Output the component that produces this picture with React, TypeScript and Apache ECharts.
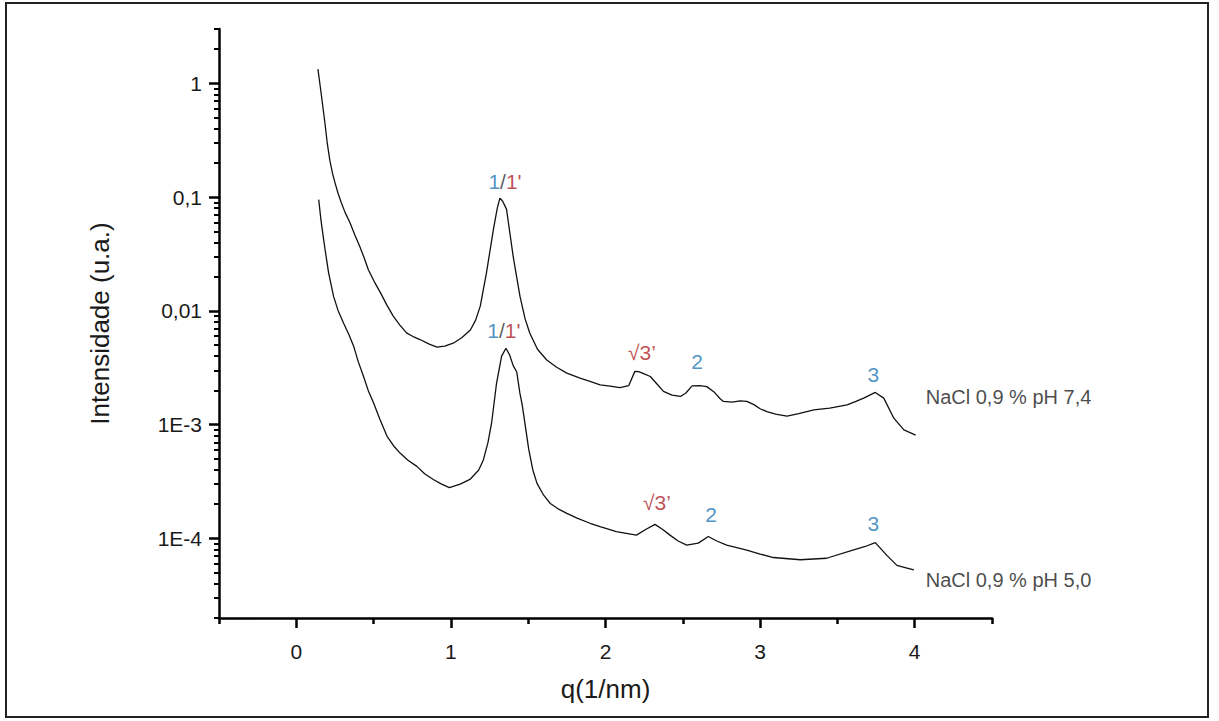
import React, { useEffect, useRef } from "react";
import * as echarts from "echarts";

// pH 7,4 curve (top)
const qTop = [0.14, 0.16, 0.185, 0.2, 0.217, 0.235, 0.25, 0.27, 0.29, 0.316, 0.346, 0.38, 0.41, 0.44, 0.466, 0.505, 0.545, 0.585, 0.627, 0.67, 0.713, 0.76, 0.8, 0.86, 0.91, 0.96, 1.015, 1.07, 1.126, 1.16, 1.19, 1.23, 1.275, 1.3, 1.317, 1.335, 1.36, 1.38, 1.403, 1.425, 1.447, 1.48, 1.51, 1.56, 1.62, 1.684, 1.75, 1.835, 1.9, 1.965, 2.03, 2.094, 2.15, 2.19, 2.215, 2.25, 2.29, 2.33, 2.375, 2.43, 2.485, 2.52, 2.56, 2.61, 2.655, 2.7, 2.74, 2.763, 2.82, 2.87, 2.914, 2.96, 3.0, 3.044, 3.1, 3.174, 3.25, 3.347, 3.45, 3.563, 3.62, 3.67, 3.745, 3.8, 3.865, 3.93, 4.006];
const iTop = [1.33, 0.83, 0.45, 0.3, 0.21, 0.16, 0.134, 0.108, 0.09, 0.073, 0.06, 0.046, 0.037, 0.029, 0.023, 0.018, 0.0144, 0.0113, 0.009, 0.0075, 0.0064, 0.0059, 0.0056, 0.0051, 0.0048, 0.0049, 0.0052, 0.0058, 0.0068, 0.0083, 0.011, 0.0216, 0.052, 0.08, 0.098, 0.092, 0.078, 0.05, 0.03, 0.02, 0.0134, 0.0085, 0.0064, 0.0046, 0.0037, 0.0032, 0.00284, 0.00257, 0.0024, 0.00224, 0.00218, 0.00212, 0.0022, 0.00294, 0.00292, 0.0028, 0.00265, 0.0023, 0.00196, 0.00182, 0.00177, 0.0019, 0.00219, 0.0022, 0.00216, 0.00195, 0.0017, 0.0016, 0.00158, 0.00162, 0.0016, 0.0015, 0.00138, 0.0013, 0.00124, 0.00119, 0.00125, 0.00135, 0.0014, 0.00149, 0.0016, 0.00171, 0.00192, 0.00171, 0.00114, 0.0009, 0.00081];

// pH 5,0 curve (bottom)
const qBottom = [0.145, 0.16, 0.177, 0.193, 0.209, 0.225, 0.241, 0.27, 0.306, 0.34, 0.371, 0.4, 0.435, 0.465, 0.5, 0.54, 0.587, 0.63, 0.673, 0.72, 0.78, 0.83, 0.886, 0.94, 0.99, 1.06, 1.123, 1.18, 1.21, 1.24, 1.263, 1.295, 1.328, 1.356, 1.38, 1.403, 1.426, 1.446, 1.461, 1.48, 1.504, 1.53, 1.557, 1.6, 1.643, 1.7, 1.75, 1.82, 1.9, 1.965, 2.07, 2.2, 2.26, 2.32, 2.37, 2.417, 2.47, 2.525, 2.6, 2.665, 2.72, 2.784, 2.914, 3.0, 3.086, 3.26, 3.43, 3.6, 3.68, 3.745, 3.82, 3.885, 3.95, 3.995];
const iBottom = [0.095, 0.062, 0.042, 0.03, 0.0216, 0.017, 0.0134, 0.0101, 0.0078, 0.0062, 0.0049, 0.0036, 0.00265, 0.002, 0.00155, 0.00112, 0.00079, 0.00065, 0.00056, 0.00049, 0.00043, 0.00037, 0.00033, 0.0003, 0.00028, 0.0003, 0.00033, 0.0004, 0.00049, 0.0007, 0.00103, 0.0023, 0.004, 0.0047, 0.0041, 0.0033, 0.0029, 0.0019, 0.0015, 0.001, 0.0006, 0.0004, 0.000305, 0.00024, 0.000203, 0.00018, 0.000166, 0.00015, 0.000136, 0.000127, 0.000115, 0.000107, 0.00012, 0.000133, 0.00012, 0.000107, 0.000095, 0.0000875, 0.000091, 0.000104, 0.000095, 0.0000875, 0.000079, 0.000073, 0.000068, 0.000065, 0.000067, 0.000079, 0.000085, 0.000092, 0.000071, 0.000058, 0.000055, 0.000053];

// axis ticks
const xTickValues = [0, 1, 2, 3, 4];
const xMinorTickValues = [-0.5, 0.5, 1.5, 2.5, 3.5, 4.5];
const yTickValues = [1e-4, 1e-3, 0.01, 0.1, 1];
const yTickLabels = ["1E-4", "1E-3", "0,01", "0,1", "1"];
const yMinorTickValues = [
  2e-5, 3e-5, 4e-5, 5e-5, 6e-5, 7e-5, 8e-5, 9e-5,
  2e-4, 3e-4, 4e-4, 5e-4, 6e-4, 7e-4, 8e-4, 9e-4,
  2e-3, 3e-3, 4e-3, 5e-3, 6e-3, 7e-3, 8e-3, 9e-3,
  0.02, 0.03, 0.04, 0.05, 0.06, 0.07, 0.08, 0.09,
  0.2, 0.3, 0.4, 0.5, 0.6, 0.7, 0.8, 0.9,
  2, 3,
];

// peak annotations
const annRich = ["{b|1}{k|/}{r|1'}", "{r|√3’}", "{b|2}", "{b|3}", "{b|1}{k|/}{r|1'}", "{r|√3’}", "{b|2}", "{b|3}"];
const annQ = [1.35, 2.236, 2.593, 3.733, 1.343, 2.333, 2.683, 3.733];
const annI = [0.137, 0.00428, 0.00357, 0.00274, 0.0067, 0.000205, 0.000164, 0.000134];

// series names at curve ends
const seriesNames = ["NaCl 0,9 % pH 7,4", "NaCl 0,9 % pH 5,0"];
const nameQ = [4.068, 4.068];
const nameI = [0.00176, 0.000043];

const FONT = "'Liberation Sans', Arial, sans-serif";

export default function App() {
  const ref = useRef<HTMLDivElement>(null);
  useEffect(() => {
    if (!ref.current) return;
    const chart = echarts.init(ref.current, null, { renderer: "svg" });
    const yFmt = (v: number) => {
      for (let i = 0; i < yTickValues.length; i++) {
        if (Math.abs(Math.log10(v) - Math.log10(yTickValues[i])) < 1e-6) return yTickLabels[i];
      }
      return "";
    };
    const axisColor = "#000";
    chart.setOption({
      animation: false,
      backgroundColor: "#fff",
      textStyle: { fontFamily: FONT },
      graphic: [
        {
          type: "rect",
          shape: { x: 6, y: 3, width: 1202, height: 714 },
          style: { fill: "none", stroke: "#222", lineWidth: 2 },
          silent: true,
        },
      ],
      grid: { left: 219, top: 29, width: 773, height: 589 },
      xAxis: [
        {
          type: "value",
          min: -0.5,
          max: 4.5,
          position: "bottom",
          axisLine: { onZero: false, lineStyle: { color: axisColor, width: 2.5 } },
          axisTick: { customValues: xTickValues, length: 10, lineStyle: { color: axisColor, width: 2.5 } },
          axisLabel: { customValues: xTickValues, fontSize: 21, color: "#1a1a1a", margin: 23, fontFamily: FONT },
          splitLine: { show: false },
          name: "q(1/nm)",
          nameLocation: "middle",
          nameGap: 58,
          nameTextStyle: { fontSize: 26, color: "#1a1a1a", fontFamily: FONT },
        },
        {
          type: "value",
          min: -0.5,
          max: 4.5,
          position: "bottom",
          axisLine: { show: false, onZero: false },
          axisTick: { customValues: xMinorTickValues, length: 6, lineStyle: { color: axisColor, width: 2.5 } },
          axisLabel: { show: false },
          splitLine: { show: false },
        },
      ],
      yAxis: [
        {
          type: "log",
          min: 2e-5,
          max: 3,
          position: "left",
          axisLine: { onZero: false, lineStyle: { color: axisColor, width: 2.5 } },
          axisTick: { customValues: yTickValues, length: 10, lineStyle: { color: axisColor, width: 2.5 } },
          axisLabel: { customValues: yTickValues, formatter: yFmt, fontSize: 21, color: "#1a1a1a", margin: 17, fontFamily: FONT },
          splitLine: { show: false },
          name: "Intensidade (u.a.)",
          nameLocation: "middle",
          nameGap: 106,
          nameTextStyle: { fontSize: 26, color: "#1a1a1a", fontFamily: FONT },
        },
        {
          type: "log",
          min: 2e-5,
          max: 3,
          position: "left",
          axisLine: { show: false, onZero: false },
          axisTick: { customValues: yMinorTickValues, length: 5, lineStyle: { color: axisColor, width: 2 } },
          axisLabel: { show: false },
          splitLine: { show: false },
        },
      ],
      series: [
        {
          name: seriesNames[0],
          type: "line",
          data: qTop.map((q, i) => [q, iTop[i]]),
          showSymbol: false,
          lineStyle: { color: "#111", width: 1.3 },
          silent: true,
        },
        {
          name: seriesNames[1],
          type: "line",
          data: qBottom.map((q, i) => [q, iBottom[i]]),
          showSymbol: false,
          lineStyle: { color: "#111", width: 1.3 },
          silent: true,
        },
        {
          type: "scatter",
          symbolSize: 1,
          itemStyle: { color: "transparent" },
          silent: true,
          z: 5,
          data: annQ.map((q, i) => ({
            value: [q, annI[i]],
            label: { formatter: annRich[i] },
          })),
          label: {
            show: true,
            position: "inside",
            fontFamily: FONT,
            rich: {
              b: { color: "#2277b5", fontSize: 21, fontFamily: FONT },
              r: { color: "#ae1f27", fontSize: 21, fontFamily: FONT },
              k: { color: "#333", fontSize: 21, fontFamily: FONT },
            },
          },
        },
        {
          type: "scatter",
          symbolSize: 1,
          itemStyle: { color: "transparent" },
          silent: true,
          z: 5,
          data: nameQ.map((q, i) => ({ value: [q, nameI[i]], name: seriesNames[i] })),
          label: {
            show: true,
            position: "right",
            distance: 0,
            formatter: "{b}",
            color: "#1a1a1a",
            fontSize: 20,
            fontFamily: FONT,
          },
        },
      ],
    });
    return () => chart.dispose();
  }, []);
  return (
    <div
      ref={ref}
      style={{ position: "absolute", left: 0, top: 0, width: 1219, height: 721, background: "#fff" }}
    />
  );
}
